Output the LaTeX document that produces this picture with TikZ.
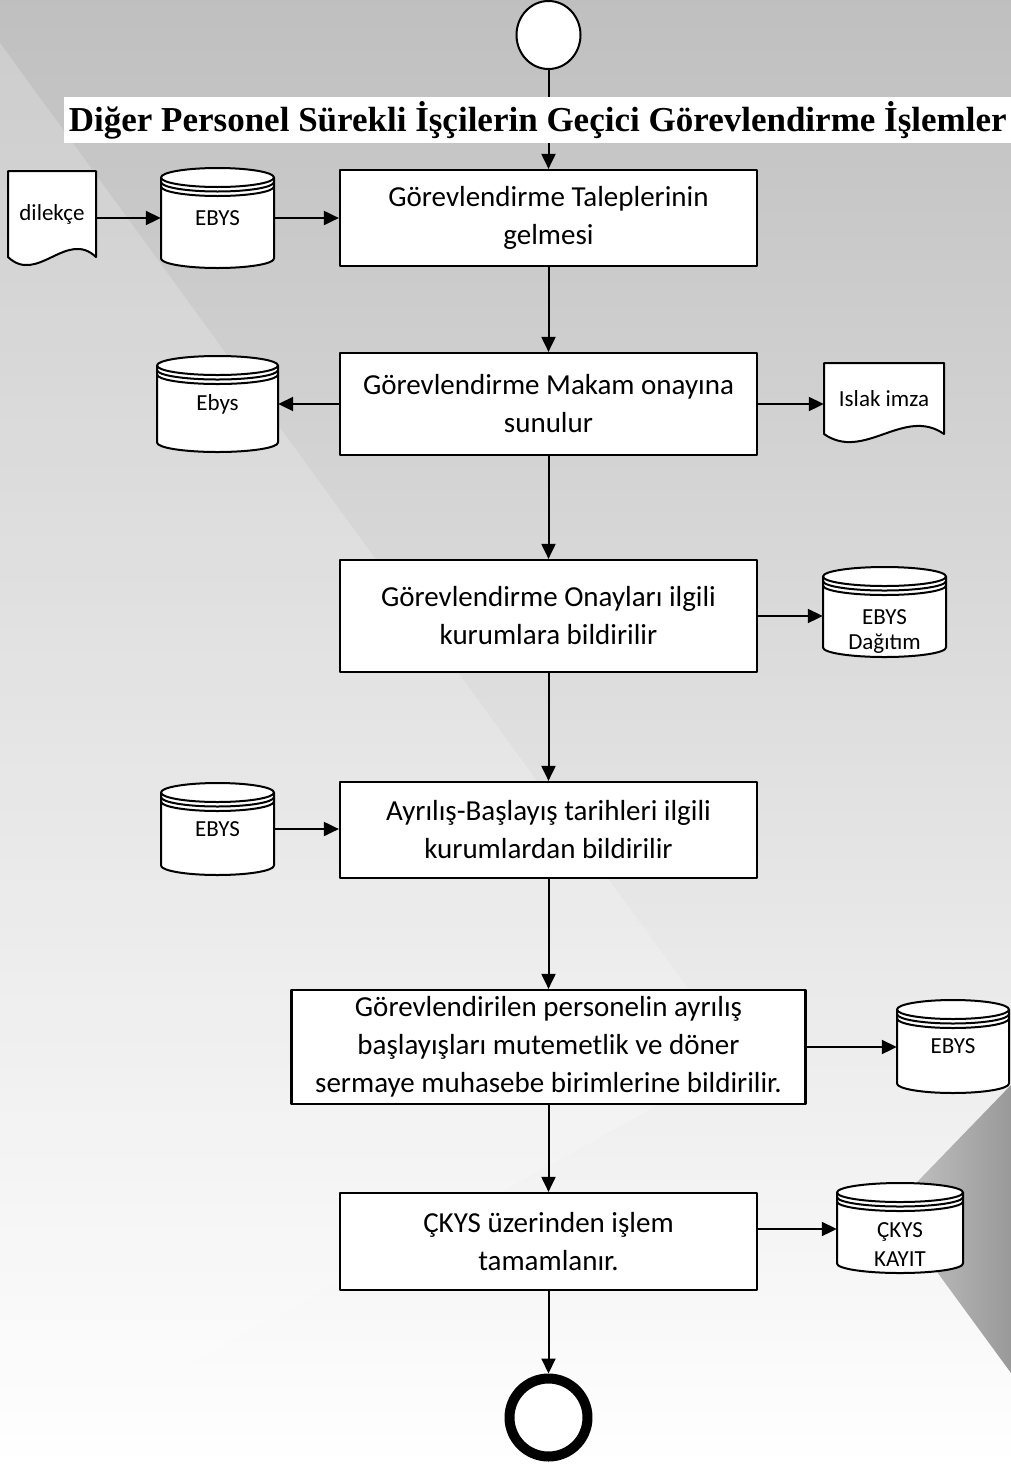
\documentclass[tikz,border=0pt]{standalone}
\usepackage{fontspec}
\setmainfont{Carlito}
\newfontfamily\titlefont{Liberation Serif}
\usetikzlibrary{arrows.meta,positioning,shapes.geometric}

% database drum: [node options] name, centre, width, height, text
\newcommand{\dbase}[6][]{%
  \begin{scope}[shift={#3}]
    \filldraw[dbline] (-#4/2,#5/2-9.5) -- (-#4/2,-#5/2+9.5)
      arc[start angle=180,end angle=360,x radius=#4/2,y radius=9.5]
      -- (#4/2,#5/2-9.5)
      arc[start angle=0,end angle=180,x radius=#4/2,y radius=9.5] -- cycle;
    \foreach \gap in {0,4.5,9}
      \draw[dbline,fill=none] (-#4/2,#5/2-9.5-\gap)
        arc[start angle=180,end angle=360,x radius=#4/2,y radius=9.5];
  \end{scope}
  \node[dbtext,minimum width=#4pt,minimum height=#5pt,#1] (#2) at #3 {#6};
}
% paper document: name, centre, width, height, text
\newcommand{\docnode}[5]{%
  \filldraw[docline,shift={#2}] (-#3/2,#4/2) -- (#3/2,#4/2) -- (#3/2,-#4/2)
    .. controls (#3/6,-#4/2+28) and (-#3/6,-#4/2-28) .. (-#3/2,-#4/2) -- cycle;
  \node[doctext,minimum width=#3pt,minimum height=#4pt] (#1) at #2 {#5};
}

\begin{document}
\begin{tikzpicture}[x=1pt,y=1pt,line join=round,
  stepbox/.style={draw,fill=white,line width=2.2pt,align=center,inner sep=0pt,
    font=\fontsize{29}{38}\selectfont},
  dbline/.style={draw,fill=white,line width=2pt},
  dbtext/.style={align=center,inner sep=0pt,font=\fontsize{23}{25}\selectfont},
  docline/.style={draw,fill=white,line width=2pt},
  doctext/.style={inner sep=0pt,font=\fontsize{23}{25}\selectfont},
  flow/.style={line width=2pt,-{Triangle[length=15pt,width=14pt]}}]
\useasboundingbox (0,0) rectangle (1011,-1468);
% background
\shade[top color=black!25,middle color=black!17,bottom color=white] (0,0) rectangle (1011,-1468);
\fill[white,opacity=.2] (0,-43) -- (740,-1060) -- (0,-1468) -- cycle;
\shade[left color=black!22,right color=black!40] (891,-1209) -- (1011,-1085) -- (1011,-1373) -- cycle;

% main column
\node[draw,fill=white,ellipse,line width=2pt,minimum width=64pt,minimum height=68pt,inner sep=0pt] (start) at (548.5,-35) {};
\node[stepbox,minimum width=417pt,minimum height=96pt] (talep) at (548.5,-218) {Görevlendirme Taleplerinin\\gelmesi};
\node[stepbox,minimum width=417pt,minimum height=102pt] (makam) at (548.5,-404) {Görevlendirme Makam onayına\\sunulur};
\node[stepbox,minimum width=417pt,minimum height=112pt] (onay) at (548.5,-616) {Görevlendirme Onayları ilgili\\kurumlara bildirilir};
\node[stepbox,minimum width=417pt,minimum height=96pt] (ayrilis) at (548.5,-830) {Ayrılış-Başlayış tarihleri ilgili\\kurumlardan bildirilir};
\node[stepbox,minimum width=514pt,minimum height=114pt] (bildirim) at (548.5,-1047) {Görevlendirilen personelin ayrılış\\başlayışları mutemetlik ve döner\\sermaye muhasebe birimlerine bildirilir.};
\node[stepbox,minimum width=417pt,minimum height=97pt] (ckys) at (548.5,-1241.5) {ÇKYS üzerinden işlem\\tamamlanır.};
\node[draw,fill=white,circle,line width=10pt,minimum size=78pt,inner sep=0pt] (finish) at (548.5,-1417.5) {};

% side stores
\docnode{dilekce}{(52,-214)}{88}{86}{dilekçe}
\dbase{ebysA}{(217.5,-218)}{113}{100}{EBYS}
\dbase{ebysB}{(217.5,-404)}{121}{96}{Ebys}
\docnode{islak}{(884,-398.5)}{120}{71}{Islak imza}
\dbase[yshift=-20pt]{dagitim}{(884.5,-612)}{123}{90}{EBYS\\Dağıtım}
\dbase{ebysD}{(217.5,-829)}{113}{92}{EBYS}
\dbase{ebysE}{(953,-1046.5)}{112}{93}{EBYS}
\dbase[yshift=-16.5pt,font=\fontsize{23}{29}\selectfont]{kayit}{(900,-1228)}{126}{90}{ÇKYS\\KAYIT}
\coordinate (ckysout) at ([yshift=12.5pt]ckys.east);

% connectors
\draw[flow] (start) -- (talep);
\draw[flow] (dilekce.east |- ebysA.west) -- (ebysA.west);
\draw[flow] (ebysA) -- (talep);
\draw[flow] (talep) -- (makam);
\draw[flow] (makam) -- (ebysB);
\draw[flow] (makam.east) -- (makam.east -| islak.west);
\draw[flow] (makam) -- (onay);
\draw[flow] (onay.east) -- (onay.east -| dagitim.west);
\draw[flow] (onay) -- (ayrilis);
\draw[flow] (ebysD.east) -- (ebysD.east -| ayrilis.west);
\draw[flow] (ayrilis) -- (bildirim);
\draw[flow] (bildirim.east) -- (bildirim.east -| ebysE.west);
\draw[flow] (bildirim) -- (ckys);
\draw[flow] (ckysout) -- (ckysout -| kayit.west);
\draw[flow] (ckys) -- (finish);

% title band over the first connector
\node[fill=white,anchor=west,minimum height=46pt,minimum width=947pt,inner xsep=1pt,
  font=\titlefont\bfseries\fontsize{35}{35}\selectfont] (title) at (64,-120)
  {Diğer Personel Sürekli İşçilerin Geçici Görevlendirme İşlemler};
\end{tikzpicture}
\end{document}
